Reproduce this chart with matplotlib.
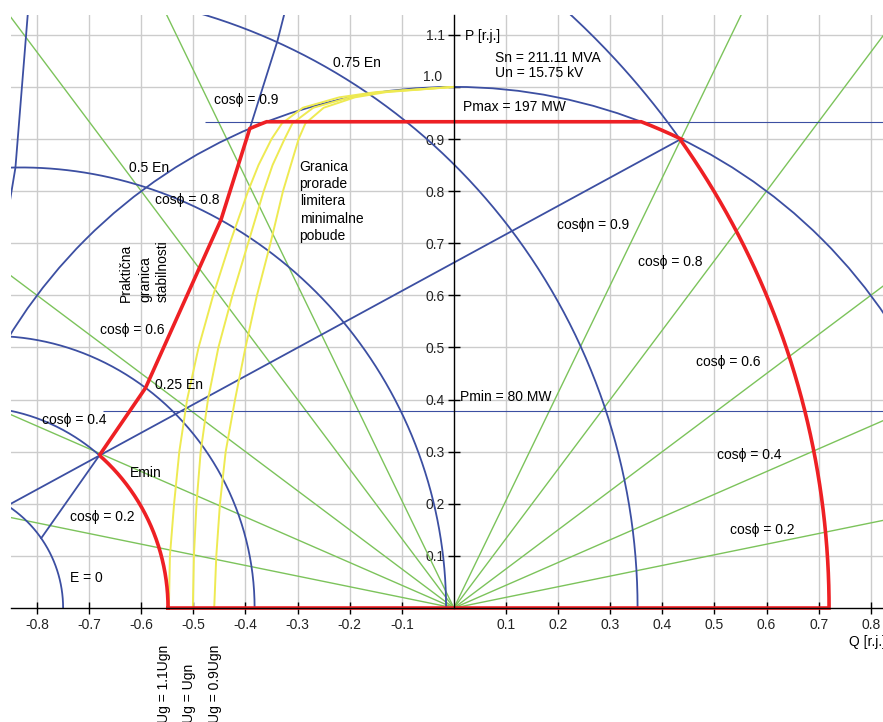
import numpy as np
import matplotlib
matplotlib.use("Agg")
import matplotlib.pyplot as plt
from matplotlib.patches import Circle

plt.rcParams['font.family'] = ['Liberation Sans', 'DejaVu Sans']

# ---------------- data (per unit) ----------------
inv_xd = 0.75          # 1/xd
inv_xq = 1.218         # 1/xq
En_xd = 1.47           # En/xd
E_levels = [0.0, 0.25, 0.5, 0.75, 1.0]
Emin_level = 0.137
Sn_MVA = 211.11
Un_kV = 15.75
Pmax_MW = 197
Pmin_MW = 80
cos_n = 0.9
cos_values = [0.2, 0.4, 0.6, 0.8, 0.9]
Pmax_line_start = -0.477
Pmin_line_start = -0.673

# practical stability limit (E = 0, Emin, 0.25En, 0.5En, 0.75En, En)
prac_Q = [-0.792, -0.681, -0.592, -0.447, -0.339, -0.250]
prac_P = [0.134, 0.292, 0.422, 0.745, 1.087, 1.435]
# theoretical stability limit (E = 0, 0.25En, 0.5En, 0.75En, En)
theo_Q = [-0.984, -0.895, -0.8415, -0.814, -0.786]
theo_P = [0.234, 0.522, 0.845, 1.187, 1.537]

# under-excitation limiter characteristics
uel_P = [0.0, 0.1, 0.2, 0.3, 0.4, 0.5, 0.6, 0.7, 0.8, 0.85, 0.9, 0.93, 0.96, 0.98, 0.99, 1.0]
uel_Q_11 = [-0.547, -0.545, -0.537, -0.527, -0.512, -0.490, -0.462, -0.430, -0.395, -0.375,
            -0.350, -0.330, -0.290, -0.220, -0.150, 0.0]
uel_Q_10 = [-0.501, -0.499, -0.494, -0.486, -0.472, -0.452, -0.425, -0.395, -0.365, -0.348,
            -0.325, -0.310, -0.270, -0.200, -0.140, 0.0]
uel_Q_09 = [-0.460, -0.456, -0.449, -0.438, -0.420, -0.400, -0.378, -0.352, -0.328, -0.313,
            -0.298, -0.285, -0.250, -0.190, -0.130, 0.0]
uel_labels = ['Ug = 1.1Ugn', 'Ug = Ugn', 'Ug = 0.9Ugn']

x_ticks = [-0.8, -0.7, -0.6, -0.5, -0.4, -0.3, -0.2, -0.1, 0.1, 0.2, 0.3, 0.4, 0.5, 0.6, 0.7, 0.8]
y_ticks = [0.1, 0.2, 0.3, 0.4, 0.5, 0.6, 0.7, 0.8, 0.9, 1.0, 1.1]
y_label_raised = 1.0   # this tick label sits slightly above its tick

# ---------------- styles ----------------
BLUE = '#3c4fa2'
GREEN = '#7cc35b'
RED = '#ee2024'
YELLOW = '#eeea52'
GRID = '#cccccc'

fig = plt.figure(figsize=(8.83, 7.22), dpi=100)
ax = fig.add_axes([11 / 883, 114 / 722, 872 / 883, 593 / 722])
ax.set_xlim(-0.850, 0.8235)
ax.set_ylim(0, 1.138)

# grid
ax.set_xticks(x_ticks)
ax.set_xticklabels([f"{v:.1f}" for v in x_ticks])
ax.set_yticks(y_ticks)
ax.set_yticklabels(["" if abs(v - y_label_raised) < 1e-9 else f"{v:.1f}" for v in y_ticks])
ax.grid(True, color=GRID, linewidth=1.0, zorder=0)
ax.set_axisbelow(True)

for s in ['top', 'right']:
    ax.spines[s].set_visible(False)
ax.spines['left'].set_position(('data', 0))
ax.spines['bottom'].set_position(('data', 0))
ax.spines['left'].set_linewidth(1.0)
ax.spines['bottom'].set_linewidth(1.0)
ax.spines['left'].set_zorder(6)
ax.spines['bottom'].set_zorder(6)
ax.tick_params(direction='inout', length=9, width=1.0, labelsize=10, colors='black')
ax.tick_params(axis='y', pad=2)
ax.tick_params(axis='x', pad=3)
for lab in ax.get_xticklabels() + ax.get_yticklabels():
    lab.set_color('#222222')
ax.annotate(f"{y_label_raised:.1f}", xy=(0, y_label_raised), xycoords='data',
            xytext=(-8.5, 7), textcoords='offset points', ha='right', va='center',
            fontsize=10, color='#222222', zorder=7)

# machine loci
r = (inv_xq - inv_xd) / 2
m = (inv_xq + inv_xd) / 2


def locus(frac, d):
    e = frac * En_xd
    return e * np.cos(d) - m + r * np.cos(2 * d), e * np.sin(d) + r * np.sin(2 * d)


Pn = cos_n
Qn = np.sqrt(1 - cos_n ** 2)
delta_n = np.arctan2(Pn, Qn + inv_xq)
Pmax = Pmax_MW / Sn_MVA
Pmin = Pmin_MW / Sn_MVA

# green cos(phi) lines
for c in cos_values:
    s = np.sqrt(1 - c ** 2)
    ax.axline((0, 0), slope=c / s, color=GREEN, lw=1.0, zorder=1)
    ax.axline((0, 0), slope=-c / s, color=GREEN, lw=1.0, zorder=1)

# blue loci
d_all = np.linspace(0, np.pi / 2, 400)
for f in E_levels:
    q, p = locus(f, d_all)
    ax.plot(q, p, color=BLUE, lw=1.3, zorder=2)
d_emin = np.linspace(delta_n, np.pi / 2, 300)
q, p = locus(Emin_level, d_emin)
ax.plot(q, p, color=BLUE, lw=1.3, zorder=2)

ax.add_patch(Circle((0, 0), 1.0, fill=False, edgecolor=BLUE, lw=1.3, zorder=2))
ax.plot(prac_Q, prac_P, color=BLUE, lw=1.3, zorder=2)
ax.plot(theo_Q, theo_P, color=BLUE, lw=1.3, zorder=2)
ax.plot([-inv_xq, Qn], [0, Pn], color=BLUE, lw=1.3, zorder=2)
ax.hlines(Pmax, Pmax_line_start, ax.get_xlim()[1], color=BLUE, lw=0.8, zorder=2)
ax.hlines(Pmin, Pmin_line_start, ax.get_xlim()[1], color=BLUE, lw=0.8, zorder=2)

# yellow UEL curves
for qs in [uel_Q_11, uel_Q_10, uel_Q_09]:
    ax.plot(qs, uel_P, color=YELLOW, lw=1.4, zorder=3)

# ---------------- red operating boundary ----------------
d1 = np.linspace(0, delta_n, 100)
q1, p1 = locus(Emin_level, d1)
pq, pp = [], []
for i in range(1, len(prac_Q) - 1):
    a = np.array([prac_Q[i], prac_P[i]])
    b = np.array([prac_Q[i + 1], prac_P[i + 1]])
    pq.append(a[0]); pp.append(a[1])
    if np.hypot(*b) >= 1.0:
        dvec = b - a
        A = dvec @ dvec; B = 2 * a @ dvec; C = a @ a - 1
        t = (-B + np.sqrt(B * B - 4 * A * C)) / (2 * A)
        xi = a + t * dvec
        pq.append(xi[0]); pp.append(xi[1])
        break
ang_i = np.arctan2(pp[-1], pq[-1])
ang_pl = np.pi - np.arcsin(Pmax)
a1 = np.linspace(ang_i, ang_pl, 20)
ang_pr = np.arcsin(Pmax)
ang_n = np.arctan2(Pn, Qn)
a2 = np.linspace(ang_pr, ang_n, 30)
d2 = np.linspace(delta_n, 0, 200)
q2, p2 = locus(1.0, d2)
red_q = np.concatenate([q1, pq, np.cos(a1), np.cos(a2), q2, [q1[0]]])
red_p = np.concatenate([p1, pp, np.sin(a1), np.sin(a2), p2, [0.0]])
ax.plot(red_q, red_p, color=RED, lw=2.6, zorder=5, clip_on=False,
        solid_joinstyle='miter')

# ---------------- texts ----------------
fs = 10
ax.text(-0.232, 1.046, '0.75 En', fontsize=fs, va='center')
ax.text(0.079, 1.056, f'Sn = {Sn_MVA:.2f} MVA', fontsize=fs, va='center')
ax.text(0.079, 1.027, f'Un = {Un_kV:.2f} kV', fontsize=fs, va='center')
ax.text(0.017, 0.962, f'Pmax = {Pmax_MW} MW', fontsize=fs, va='center')
ax.text(0.0115, 0.405, f'Pmin = {Pmin_MW} MW', fontsize=fs, va='center')
ax.text(0.021, 1.098, 'P [r.j.]', fontsize=fs, va='center')
ax.text(0.758, -0.065, 'Q [r.j.]', fontsize=fs, va='center', clip_on=False)

ax.text(-0.624, 0.845, '0.5 En', fontsize=fs, va='center')
ax.text(-0.574, 0.428, '0.25 En', fontsize=fs, va='center')
ax.text(-0.737, 0.058, 'E = 0', fontsize=fs, va='center')
ax.text(-0.622, 0.259, 'Emin', fontsize=fs, va='center')

left_cos = {0.9: (-0.461, 0.975), 0.8: (-0.574, 0.783), 0.6: (-0.679, 0.534),
            0.4: (-0.791, 0.361), 0.2: (-0.737, 0.175)}
right_cos = {0.8: (0.353, 0.664), 0.6: (0.464, 0.472), 0.4: (0.505, 0.294),
             0.2: (0.530, 0.150)}
for c, (x, y) in left_cos.items():
    ax.text(x, y, f'cosϕ = {c}', fontsize=fs, va='center')
for c, (x, y) in right_cos.items():
    ax.text(x, y, f'cosϕ = {c}', fontsize=fs, va='center')
ax.text(0.198, 0.735, f'cosϕn = {cos_n}', fontsize=fs, va='center')

gran = ['Granica', 'prorade', 'limitera', 'minimalne', 'pobude']
for i, t in enumerate(gran):
    ax.text(-0.296, 0.847 - i * 0.0333, t, fontsize=fs, va='center')

prak = [('Praktična', -0.630), ('granica', -0.592), ('stabilnosti', -0.559)]
for t, x in prak:
    ax.text(x, 0.588, t, fontsize=fs, rotation=90, ha='center', va='bottom')

uel_x = [-0.557, -0.509, -0.459]
for t, x in zip(uel_labels, uel_x):
    ax.text(x, -0.220, t, fontsize=fs, rotation=90, ha='center', va='bottom', clip_on=False)

fig.savefig('out.png', dpi=100)
